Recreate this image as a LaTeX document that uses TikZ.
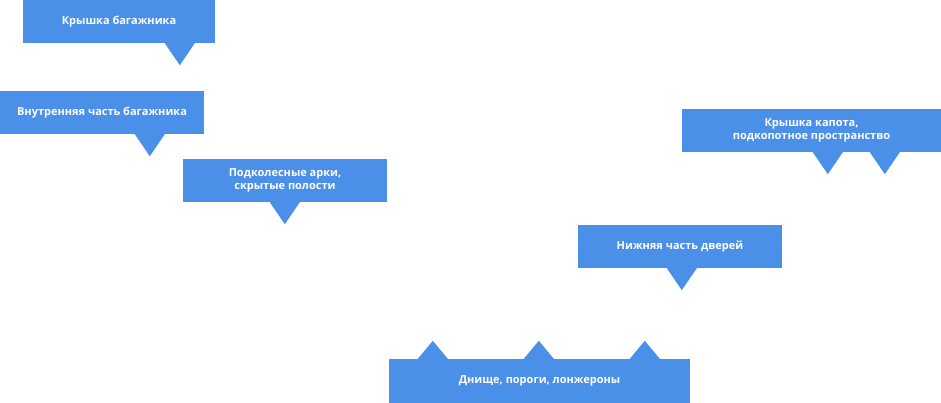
\documentclass[tikz,border=0pt]{standalone}
\usepackage{fontspec}
\setmainfont{Open Sans}
\usetikzlibrary{calc}
\definecolor{calloutblue}{HTML}{4A8FE8}
\begin{document}
\begin{tikzpicture}[x=1pt,y=-1pt,
  callout/.style={fill=calloutblue, text=white, inner sep=0pt, align=center,
    font=\fontsize{11}{13}\selectfont\bfseries, minimum height=43pt},
  tipfill/.style={fill=calloutblue}]
\useasboundingbox (0,0) rectangle (941,403);
%% Boxes
	\node[callout, minimum width=192pt] (trunklid) at (119,21.5) {Крышка багажника};
	\node[callout, minimum width=204pt] (trunkin) at (102,112.5) {Внутренняя часть багажника};
	\node[callout, minimum width=204pt] (arches) at (285,180.5) {Подколесные арки,\\скрытые полости};
	\node[callout, minimum width=259pt] (hood) at (811.5,130.5) {Крышка капота,\\подкопотное пространство};
	\node[callout, minimum width=204pt] (doors) at (680,246.5) {Нижняя часть дверей};
	\node[callout, minimum width=301pt, minimum height=44pt] (floor) at (539.5,381) {Днище, пороги, лонжероны};
%% Pointers
	\newcommand\downtip[2]{\fill[tipfill] ([xshift=#2-15pt]#1.south west) -- ([xshift=#2pt,yshift=-22pt]#1.south west) -- ([xshift=#2+15pt]#1.south west) -- cycle;}
	\newcommand\uptip[2]{\fill[tipfill] ([xshift=#2-15pt]#1.north west) -- ([xshift=#2pt,yshift=18pt]#1.north west) -- ([xshift=#2+15pt]#1.north west) -- cycle;}
	\downtip{trunklid}{157}
	\downtip{trunkin}{150}
	\downtip{arches}{102}
	\downtip{hood}{146}
	\downtip{hood}{203}
	\downtip{doors}{104}
	\uptip{floor}{44}
	\uptip{floor}{150}
	\uptip{floor}{256}
\end{tikzpicture}
\end{document}
